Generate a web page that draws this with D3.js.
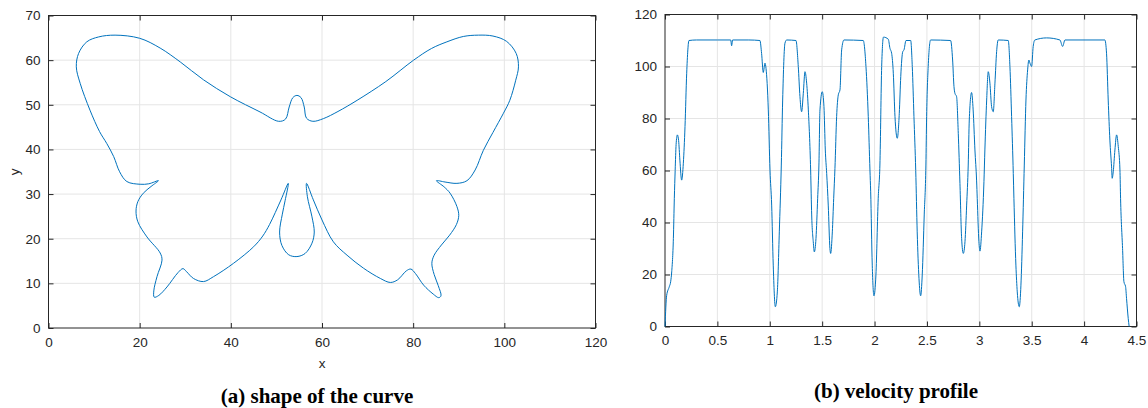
<!DOCTYPE html>
<html>
<head>
<meta charset="utf-8">
<script src="https://cdn.jsdelivr.net/npm/d3@7"></script>
<style>
  body { margin: 0; background: #fff; }
  .tick text { font-family: "Liberation Sans", Arial, sans-serif; fill: #262626; }
  .caption { font-family: "Liberation Serif", "Times New Roman", serif; font-weight: bold; }
</style>
</head>
<body>
<svg id="chart" width="1148" height="408"></svg>
<script>
// (a) butterfly outline (closed loop)
const shapeX = [6.1,6.6,8.4,11,14.6,20,24.5,28.9,34,39.9,46.4,50.5,52.0,52.8,53.6,54.5,55.4,56.1,56.6,58,
  60.3,63.5,67.7,74,80.1,84,87.4,91,94.3,97.5,100.5,102.6,103.1,102.5,101.2,99.8,97.5,95.4,93.6,91.8,
  89.6,87,85.1,86.8,88.1,89.6,90.0,89.5,88.0,86.2,84.6,84.1,84.6,85.5,86.1,85.6,84.4,82.3,80.5,79.5,
  78.5,76.6,75.0,72.8,69.1,65.5,62.5,60.0,58.1,56.6,56.8,57.8,58.3,57.8,56.3,54.5,52.7,51.2,50.7,51.3,
  51.9,52.6,51.0,48.5,47.0,45.0,40.6,36.2,34.0,31.8,30.3,29.5,28.4,26.0,24.2,23.2,23.1,23.8,24.9,24.5,
  21.6,19.6,19.2,19.6,20.8,22.5,24.1,22,20.1,17.2,15.6,14.3,12.8,11.2,9.1,6.95];
const shapeY = [58.5,61.5,64.1,65.2,65.6,64.9,62.7,59.6,55.6,51.8,48.4,46.3,46.8,49.5,51.6,52.1,51.6,49.5,47.0,46.3,
  46.9,48.5,51.0,55.2,60,62.6,64.1,65.3,65.6,65.4,64.2,61.5,58.5,55.5,51,48.1,43.8,39.8,35.4,33.0,
  32.4,32.7,33.0,31.6,30.2,27.2,25.2,23.2,20.8,18.6,16.3,14.5,12.0,9.5,7.2,6.8,7.6,9.6,12.2,13.2,
  12.8,10.8,10.2,11.1,13.4,16.3,19.3,24.2,28.7,32.4,29.4,24.9,21.5,19.0,16.7,16.0,16.4,18.5,21.5,25.5,
  28.5,32.4,28.7,23.2,20.6,18.2,14.5,11.5,10.4,11.1,12.6,13.3,12.4,9.2,7.3,6.9,8.3,11.5,15.2,16.8,
  20.4,23.8,26.2,28.3,30.2,31.7,33.0,32.3,32.2,32.8,35.0,38.4,41.3,44.0,48.8,54.8];

// (b) velocity profile
const timeT = [0,0.016,0.041,0.054,0.064,0.08,0.089,0.097,0.106,0.118,0.13,0.142,0.159,0.175,0.191,0.207,0.229,0.3,0.5,0.627,
  0.636,0.645,0.8,0.906,0.922,0.938,0.954,0.964,0.986,1.002,1.018,1.033,1.053,1.072,1.091,1.11,1.123,1.145,1.161,1.25,
  1.272,1.288,1.304,1.32,1.336,1.352,1.368,1.39,1.4,1.415,1.425,1.441,1.457,1.469,1.479,1.501,1.517,1.53,1.543,1.558,
  1.574,1.581,1.597,1.61,1.622,1.638,1.654,1.67,1.686,1.708,1.892,1.918,1.94,1.956,1.963,1.978,1.994,2.013,2.035,2.051,
  2.068,2.085,2.131,2.147,2.163,2.179,2.195,2.217,2.236,2.25,2.269,2.281,2.3,2.345,2.36,2.376,2.393,2.407,2.424,2.44,
  2.455,2.474,2.49,2.497,2.512,2.535,2.726,2.745,2.758,2.767,2.783,2.799,2.815,2.831,2.847,2.863,2.879,2.894,2.904,2.926,
  2.941,2.958,2.974,2.98,2.996,3.006,3.022,3.044,3.053,3.07,3.085,3.101,3.117,3.133,3.149,3.165,3.18,3.276,3.292,3.308,
  3.324,3.33,3.349,3.362,3.381,3.397,3.413,3.429,3.445,3.461,3.473,3.483,3.499,3.514,3.53,3.642,3.769,3.795,3.817,4.198,
  4.214,4.23,4.246,4.262,4.268,4.278,4.294,4.31,4.326,4.342,4.348,4.367,4.38,4.396,4.405,4.421,4.43];
const velocity = [0,12,15.3,17.2,21,33.9,49.3,60,70,73.7,71.5,64,56.3,62.8,76.9,97.4,110,110.2,110.2,110.2,
  108,110.2,110.2,110,105,97.7,101.3,99.3,83.3,60.2,46.7,23.6,7.6,13.3,36.4,62.1,87.1,109,110.2,110,
  100,88.4,82.6,89.7,98,93.6,83.3,60.2,42.9,32.6,28.7,33.9,49.3,62.1,83.3,90.3,84.6,67.9,58.9,46.7,
  30,28.1,36.4,49.3,60.8,80.7,89.1,91,106.4,110.2,110,100,80.7,60.2,51.8,23.6,11.8,19.8,49.3,62.1,
  100,111.3,110.5,107,105.1,97.4,80.7,72.4,82,96.1,105.7,106.4,110,110,100,80.7,60,36.4,18.5,11.8,
  19.8,42.9,62.1,80.7,100,110.2,110,102.5,92.3,89.7,88.4,74.3,55,33.9,28.1,32.6,46.7,62.1,79.4,90,
  83.3,67.9,56,49.3,32.6,29,36.4,55.7,67.9,87.1,98,93.6,84.6,82.6,93.6,105.7,110.2,110,100,80.7,
  58.9,49.3,23.6,13.3,7.6,15.9,36.4,62.1,87.1,98.7,102.5,101.3,100,107.7,110.2,111,110.2,107.7,110.2,110.2,
  105.1,87.1,71.7,61.4,57,59.5,67.9,73.7,69.2,60.2,49.3,30,17.2,15.3,10.8,3.1,0];

const xTicksA = [0,20,40,60,80,100,120];
const yTicksA = [0,10,20,30,40,50,60,70];
const xTicksB = [0,0.5,1,1.5,2,2.5,3,3.5,4,4.5];
const yTicksB = [0,20,40,60,80,100,120];

const svg = d3.select("#chart");
const lineColor = "#0072BD";
const axisColor = "#262626";
const gridColor = "#e5e5e5";

function drawPanel({x, y, xTicks, yTicks, xFmt, xLabel, yLabel, fontSize}) {
  const [x0, x1] = x.range();
  const [y0, y1] = y.range(); // y0 bottom, y1 top
  const g = svg.append("g");

  // grid
  g.selectAll(".gx").data(xTicks.slice(1, -1)).enter().append("line")
    .attr("x1", d => x(d)).attr("x2", d => x(d))
    .attr("y1", y0).attr("y2", y1)
    .attr("stroke", gridColor).attr("stroke-width", 1);
  g.selectAll(".gy").data(yTicks.slice(1, -1)).enter().append("line")
    .attr("x1", x0).attr("x2", x1)
    .attr("y1", d => y(d)).attr("y2", d => y(d))
    .attr("stroke", gridColor).attr("stroke-width", 1);

  const styleAxis = sel => {
    sel.select(".domain").remove();
    sel.selectAll(".tick line").attr("stroke", axisColor);
    sel.selectAll(".tick text").style("font-size", fontSize + "px");
  };

  g.append("g").attr("transform", `translate(0,${y0})`)
    .call(d3.axisBottom(x).tickValues(xTicks).tickSize(-5).tickPadding(9).tickFormat(xFmt))
    .call(styleAxis);
  g.append("g").attr("transform", `translate(0,${y1})`)
    .call(d3.axisTop(x).tickValues(xTicks).tickSize(-5).tickFormat(""))
    .call(styleAxis);
  g.append("g").attr("transform", `translate(${x0},0)`)
    .call(d3.axisLeft(y).tickValues(yTicks).tickSize(-5).tickPadding(8))
    .call(styleAxis);
  g.append("g").attr("transform", `translate(${x1},0)`)
    .call(d3.axisRight(y).tickValues(yTicks).tickSize(-5).tickFormat(""))
    .call(styleAxis);

  g.append("rect")
    .attr("x", x0).attr("y", y1)
    .attr("width", x1 - x0).attr("height", y0 - y1)
    .attr("fill", "none").attr("stroke", axisColor).attr("stroke-width", 1);

  if (xLabel) {
    g.append("text").attr("x", (x0 + x1) / 2).attr("y", y0 + 40)
      .attr("text-anchor", "middle")
      .style("font-family", "Liberation Sans, Arial, sans-serif")
      .style("font-size", fontSize + "px").attr("fill", axisColor)
      .text(xLabel);
  }
  if (yLabel) {
    g.append("text")
      .attr("transform", `translate(${x0 - 30},${(y0 + y1) / 2}) rotate(-90)`)
      .attr("text-anchor", "middle")
      .style("font-family", "Liberation Sans, Arial, sans-serif")
      .style("font-size", fontSize + "px").attr("fill", axisColor)
      .text(yLabel);
  }
  return g;
}

// ---- (a) shape of the curve
const xA = d3.scaleLinear().domain([0, 120]).range([48.5, 595.5]);
const yA = d3.scaleLinear().domain([0, 70]).range([328, 15.5]);
drawPanel({x: xA, y: yA, xTicks: xTicksA, yTicks: yTicksA, xFmt: d3.format("d"),
  xLabel: "x", yLabel: "y", fontSize: 13.5});

const shapePts = shapeX.map((d, i) => [d, shapeY[i]]);
svg.append("path")
  .datum(shapePts)
  .attr("d", d3.line().x(d => xA(d[0])).y(d => yA(d[1])).curve(d3.curveCatmullRomClosed.alpha(0.5)))
  .attr("fill", "none").attr("stroke", lineColor).attr("stroke-width", 1);

// ---- (b) velocity profile
const xB = d3.scaleLinear().domain([0, 4.5]).range([665, 1136.5]);
const yB = d3.scaleLinear().domain([0, 120]).range([326.5, 14.5]);
drawPanel({x: xB, y: yB, xTicks: xTicksB, yTicks: yTicksB, xFmt: d => String(d),
  xLabel: null, yLabel: null, fontSize: 13.5});

const velPts = timeT.map((d, i) => [d, velocity[i]]);
svg.append("path")
  .datum(velPts)
  .attr("d", d3.line().x(d => xB(d[0])).y(d => yB(d[1])).curve(d3.curveMonotoneX))
  .attr("fill", "none").attr("stroke", lineColor).attr("stroke-width", 1);

// captions
svg.append("text").attr("class", "caption")
  .attr("x", 317).attr("y", 403).attr("text-anchor", "middle")
  .style("font-size", "21px").text("(a) shape of the curve");
svg.append("text").attr("class", "caption")
  .attr("x", 896).attr("y", 398).attr("text-anchor", "middle")
  .style("font-size", "21px").text("(b) velocity profile");
</script>
</body>
</html>
